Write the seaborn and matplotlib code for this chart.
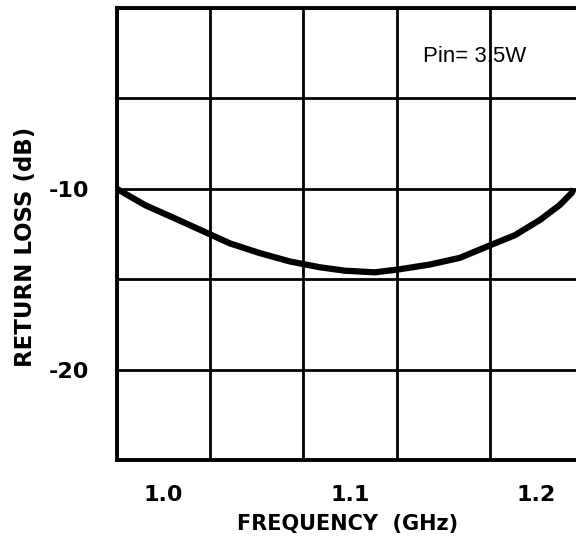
import numpy as np
import pandas as pd
import matplotlib
matplotlib.use("Agg")
import matplotlib.pyplot as plt
from matplotlib.ticker import FixedLocator, NullFormatter
import seaborn as sns

# return loss vs frequency
freq_ghz = [0.975, 0.9766, 0.990, 1.0061, 1.0222, 1.0356, 1.0517, 1.0678, 1.0838,
            1.0973, 1.1133, 1.1267, 1.1428, 1.1589, 1.175, 1.1884, 1.2018, 1.2125,
            1.219, 1.2200]
return_loss_db = [-10.0, -10.1, -10.9, -11.64, -12.39, -13.02, -13.56, -14.02, -14.34,
                  -14.53, -14.62, -14.45, -14.19, -13.82, -13.13, -12.57, -11.73, -10.9,
                  -10.22, -10.0]

x_ticks = [1.0, 1.1, 1.2]
x_ticklabels = ["1.0", "1.1", "1.2"]
y_ticks = [-10, -20]
y_ticklabels = ["-10", "-20"]
x_grid = [0.975, 1.025, 1.075, 1.125, 1.175, 1.225]
y_grid = [-25, -20, -15, -10, -5, 0]

annot = "Pin= 3.5W"
xlabel = "FREQUENCY  (GHz)"
ylabel = "RETURN LOSS (dB)"

sns.set_style("white")
plt.rcParams["font.family"] = ["DejaVu Sans"]
plt.rcParams["text.color"] = "black"
plt.rcParams["axes.labelcolor"] = "black"
plt.rcParams["xtick.color"] = "black"
plt.rcParams["ytick.color"] = "black"

df = pd.DataFrame({"freq": freq_ghz, "rl": return_loss_db})

fig = plt.figure(figsize=(5.76, 5.40), dpi=100)
ax = fig.add_axes([117 / 576, 1 - 460 / 540, 466 / 576, 452 / 540])

sns.lineplot(data=df, x="freq", y="rl", ax=ax, color="black", linewidth=4.5,
             solid_capstyle="butt", solid_joinstyle="round", sort=False)

ax.set_xlim(x_grid[0], x_grid[-1])
ax.set_ylim(y_grid[0], y_grid[-1])

ax.xaxis.set_major_locator(FixedLocator(x_ticks))
ax.set_xticklabels(x_ticklabels)
ax.xaxis.set_minor_locator(FixedLocator(x_grid))
ax.yaxis.set_major_locator(FixedLocator(y_ticks))
ax.set_yticklabels(y_ticklabels)
ax.yaxis.set_minor_locator(FixedLocator(y_grid))
ax.xaxis.set_minor_formatter(NullFormatter())
ax.yaxis.set_minor_formatter(NullFormatter())

# vertical lines sit between the labelled frequencies
ax.xaxis.grid(False, which="major")
ax.xaxis.grid(True, which="minor", color="black", linewidth=2.0)
ax.yaxis.grid(True, which="both", color="black", linewidth=2.0)
ax.set_axisbelow(True)

ax.tick_params(which="both", length=0)
ax.tick_params(axis="x", pad=18, labelsize=16, labelcolor="black")
ax.tick_params(axis="y", pad=20, labelsize=16, labelcolor="black")
for lab in ax.get_xticklabels() + ax.get_yticklabels():
    lab.set_fontweight("bold")

for side in ["left", "bottom", "top", "right"]:
    ax.spines[side].set_color("black")
    ax.spines[side].set_linewidth(2.8)

ax.set_xlabel(xlabel, fontsize=15, fontweight="bold", color="black")
ax.set_ylabel(ylabel, fontsize=16.5, fontweight="bold", color="black")
ax.xaxis.set_label_coords((348 - 117) / 466, -(524 - 460) / 452)
ax.yaxis.set_label_coords(-(117 - 26) / 466, (460 - 247) / 452)
ax.xaxis.label.set_va("center")
ax.yaxis.label.set_va("center")

ax.text(1.1393, -2.7, annot, fontsize=16, va="center", ha="left",
        family="Liberation Sans", color="black")

fig.savefig("out.png", dpi=100)
